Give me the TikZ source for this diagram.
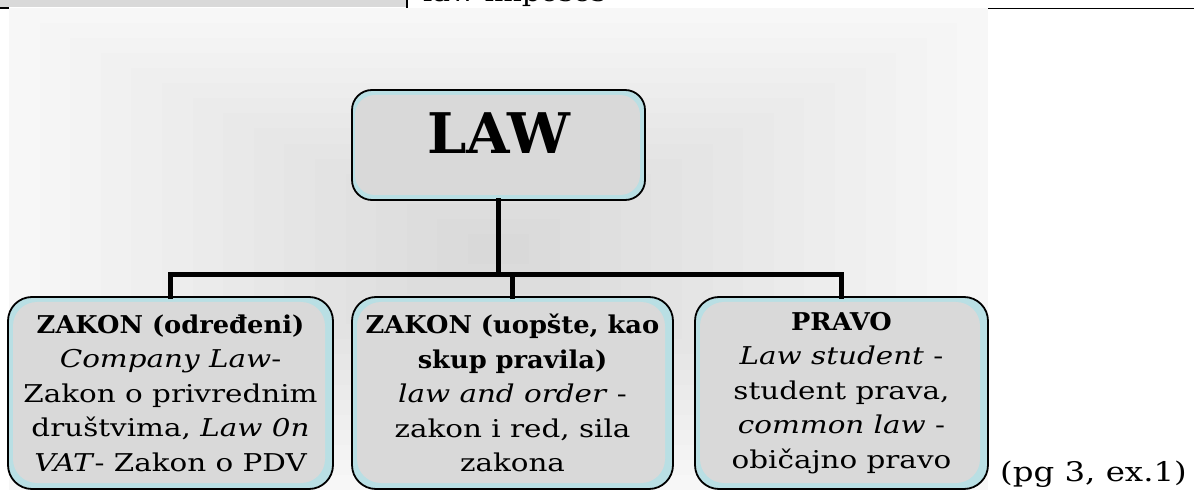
\documentclass[tikz,border=0pt]{standalone}
\usepackage{fontspec}
\setmainfont{DejaVu Serif}[FakeStretch=1.2]
\newfontfamily\bfx{DejaVu Serif}[FakeStretch=1.05]
\newfontfamily\lawfont{DejaVu Serif}
\definecolor{boxgray}{HTML}{D9D9D9}
\definecolor{boxblue}{HTML}{B9DFE4}
\definecolor{cellgray}{HTML}{D9D9D9}
\tikzset{
  bbox/.style={draw=black, line width=1.8pt, fill=boxblue, rounded corners=24pt,
    minimum height=192pt, inner sep=0pt, align=center,
    font={\fontsize{24.5pt}{34.5pt}\selectfont},
    path picture={\fill[boxgray] ([xshift=5pt,yshift=-5pt]path picture bounding box.north west)
      rectangle ([xshift=-8pt,yshift=6pt]path picture bounding box.south east);}},
  lawbox/.style={draw=black, line width=1.8pt, fill=boxblue, rounded corners=20pt,
    minimum width=293pt, minimum height=110pt, inner sep=0pt,
    path picture={\fill[boxgray] ([xshift=3pt,yshift=-5pt]path picture bounding box.north west)
      rectangle ([xshift=-5pt,yshift=5pt]path picture bounding box.south east);}},
  lawlbl/.style={anchor=base, inner sep=0pt, font={\lawfont\bfseries\fontsize{56pt}{60pt}\selectfont}},
  conn/.style={draw=black, line width=5pt, line cap=rect, line join=miter},
  rule/.style={draw=black, line width=1.4pt},
  plain/.style={inner sep=0pt, font={\fontsize{24.5pt}{30pt}\selectfont}},
}
\begin{document}
\begin{tikzpicture}[x=1pt,y=-1pt]
\useasboundingbox (0,0) rectangle (1194,494);
\clip (0,0) rectangle (1194,494);
% background gradient
\foreach \i in {0,...,15}{
  \pgfmathsetmacro\fx{489.5*\i/16}
  \pgfmathsetmacro\fy{241*\i/16}
  \pgfmathsetmacro\c{3.2+11.8*\i/15}
  \fill[black!\c] (9+\fx,8+\fy) rectangle (988-\fx,490-\fy);
}
% top table fragment
\fill[cellgray] (0,0) rectangle (407,7);
\draw[rule] (407,0) -- (407,8);
\draw[rule] (0,8) -- (9,8);
\draw[rule] (988,8.5) -- (1194,8.5);
\node[plain, anchor=base west] (top) at (423,2) {law imposes};
% boxes
\node[lawbox] (law) at (498.5,145) {};
\node[lawlbl] (lawtext) at (498.5,154) {LAW};
\node[bbox, minimum width=325pt] (b1) at (170.5,393) {{\bfx\bfseries ZAKON (određeni)}\\ \textit{Company Law}-\\ Zakon o privrednim\\ društvima, \textit{Law 0n}\\ \textit{VAT}- Zakon o PDV};
\node[bbox, minimum width=321pt] (b2) at (512.5,393) {{\bfx\bfseries ZAKON (uopšte, kao}\\ {\bfx\bfseries skup pravila)}\\ \textit{law and order} -\\ zakon i red, sila\\ zakona};
\node[bbox, minimum width=293pt] (b3) at (841.5,393) {{\bfx\bfseries PRAVO}\\ \textit{Law student} -\\ student prava,\\ \textit{common law} -\\ običajno pravo};
% connectors
\coordinate (barR) at (841.5,275);
\draw[conn] (b1.north) |- (barR) -- (b3.north);
\draw[conn] (law.south) -- (law.south |- barR);
\draw[conn] (b2.north) -- (b2.north |- barR);
% note
\node[plain, anchor=base west, font={\fontsize{27pt}{30pt}\selectfont}] (note) at (1000,481) {(pg 3, ex.1)};
\end{tikzpicture}
\end{document}
